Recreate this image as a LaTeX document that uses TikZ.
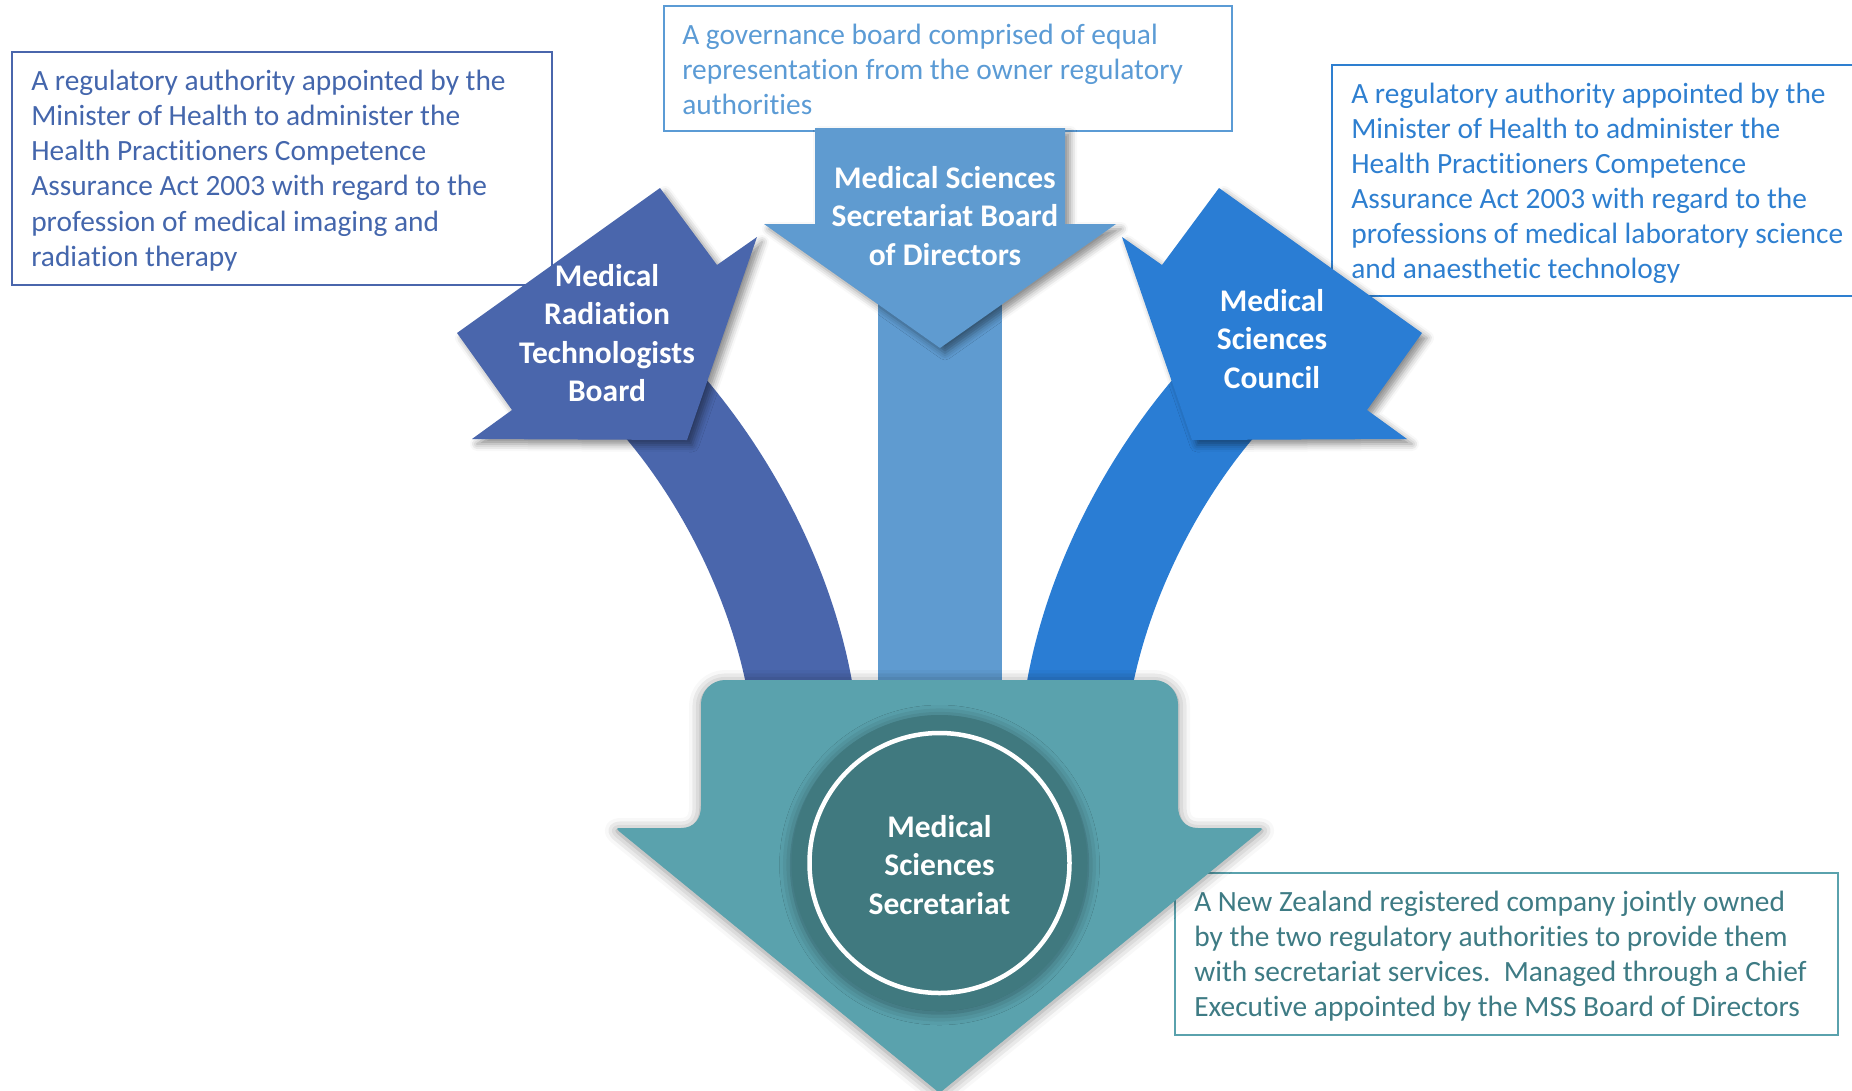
\documentclass[tikz,border=0pt]{standalone}
\usepackage{fontspec}
\setmainfont{Carlito}[Ligatures=NoCommon]
\usetikzlibrary{shadows.blur}
\definecolor{cdark}{HTML}{4A66AC}
\definecolor{cmid}{HTML}{5F9BD0}
\definecolor{cbright}{HTML}{2A7DD4}
\definecolor{cteal}{HTML}{5AA2AD}
\definecolor{cdeep}{HTML}{40797F}
\definecolor{tleft}{HTML}{4466AC}
\definecolor{ttop}{HTML}{5B9BD5}
\definecolor{tright}{HTML}{2E7FD0}
\definecolor{tbot}{HTML}{3E7B84}
\begin{document}
\begin{tikzpicture}[x=1pt,y=-1pt,
  boxframe/.style={draw, line width=1.8pt, rectangle, inner sep=0pt},
  boxtext/.style={anchor=west, align=left, inner sep=0pt},
  headtext/.style={text=white, align=center, inner sep=0pt,
    font=\bfseries\fontsize{31.5}{38.6}\selectfont},
  headshadow/.style={blur shadow={shadow xshift=5pt, shadow yshift=-5pt,
    shadow blur radius=7pt, shadow opacity=45}},
  tealshadow/.style={blur shadow={shadow xshift=0pt, shadow yshift=-2pt,
    shadow blur radius=12pt, shadow opacity=45}}]
\useasboundingbox (0,0) rectangle (1852,1090);
\clip (0,0) rectangle (1852,1090);

% description boxes (beneath the shapes)
\node[boxframe, draw=cdark, minimum width=540pt, minimum height=233pt] (boxL) at (282,168.5) {};
\node[boxtext, text=tleft, font=\fontsize{29.4}{35.2}\selectfont] (txtL) at ([xshift=20pt,yshift=-2pt]boxL.west)
  {A regulatory authority appointed by the\\ Minister of Health to administer the\\ Health Practitioners Competence\\ Assurance Act 2003 with regard to the\\ profession of medical imaging and\\ radiation therapy};
\node[boxframe, draw=ttop, minimum width=568pt, minimum height=125pt] (boxT) at (948,68.5) {};
\node[boxtext, text=ttop, font=\fontsize{29.4}{34.8}\selectfont] (txtT) at ([xshift=19pt,yshift=-1pt]boxT.west)
  {A governance board comprised of equal\\ representation from the owner regulatory\\ authorities};
\node[boxframe, draw=tright, minimum width=538pt, minimum height=231pt] (boxR) at (1601,180.5) {};
\node[boxtext, text=tright, font=\fontsize{29.4}{35.0}\selectfont] (txtR) at ([xshift=20pt,yshift=-3.2pt]boxR.west)
  {A regulatory authority appointed by the\\ Minister of Health to administer the\\ Health Practitioners Competence\\ Assurance Act 2003 with regard to the\\ professions of medical laboratory science\\ and anaesthetic technology};
\node[boxframe, draw=cteal, minimum width=663pt, minimum height=162pt] (boxB) at (1506.5,954) {};
\node[boxtext, text=tbot, font=\fontsize{29.4}{35.0}\selectfont] (txtB) at ([xshift=20pt,yshift=-2.2pt]boxB.west)
  {A New Zealand registered company jointly owned\\ by the two regulatory authorities to provide them\\ with secretariat services.\ \ Managed through a Chief\\ Executive appointed by the MSS Board of Directors};

% curved bands and centre stem
\fill[cdark] (749,700) .. controls (730,590) and (670,480) .. (600,410)
  -- (680,350) .. controls (775,450) and (838,580) .. (855,700) -- cycle;
\fill[cbright] (1130,700) .. controls (1149,590) and (1209,480) .. (1279,410)
  -- (1199,350) .. controls (1104,450) and (1041,580) .. (1024,700) -- cycle;
\fill[cmid] (878,300) rectangle (1002,700);

% arrow heads
\fill[cdark, headshadow] (660,188) -- (717,265) -- (757,237) -- (687,440)
  -- (472,439) -- (512,410) -- (457,333) -- cycle;
\fill[cbright, headshadow] (1219,188) -- (1162,265) -- (1122,237) -- (1192,440)
  -- (1407,439) -- (1367,410) -- (1422,333) -- cycle;
\fill[cmid, headshadow] (815,128) -- (1065,128) -- (1065,224) -- (1116,224)
  -- (940,348) -- (764,224) -- (815,224) -- cycle;

% big teal arrow
\fill[cteal, tealshadow] (701,704) .. controls (701,691) and (712,680) .. (725,680)
  -- (1154,680) .. controls (1167,680) and (1178,691) .. (1178,704)
  -- (1178,806) .. controls (1178,819) and (1185,828) .. (1198,828)
  -- (1256,828) .. controls (1264,828) .. (1256.2,834.3)
  -- (939.5,1093)
  -- (622.8,834.3) .. controls (615,828) .. (623,828)
  -- (681,828) .. controls (694,828) and (701,819) .. (701,806)
  -- cycle;

% centre disc
\node[circle, fill=cdeep, minimum size=296pt, inner sep=0pt, tealshadow] (disc) at (939.5,863) {};
\node[circle, draw=white, line width=4.5pt, minimum size=260pt, inner sep=0pt] (ring) at (disc.center) {};

% labels
\node[headtext] (lblL) at (607,333) {Medical\\ Radiation\\ Technologists\\ Board};
\node[headtext] (lblT) at (945,216) {Medical Sciences\\ Secretariat Board\\ of Directors};
\node[headtext] (lblR) at (1272,339) {Medical\\ Sciences\\ Council};
\node[headtext] (lblC) at (939.5,865) {Medical\\ Sciences\\ Secretariat};
\end{tikzpicture}
\end{document}
